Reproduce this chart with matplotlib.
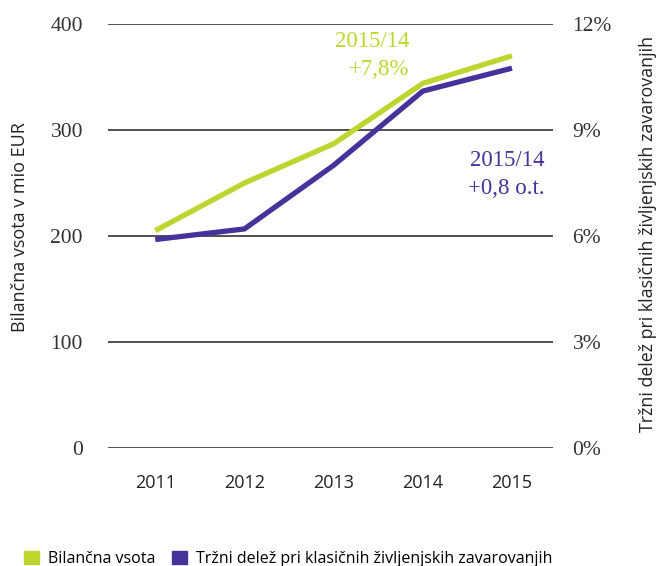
import matplotlib.pyplot as plt
from matplotlib.patches import Patch

leta = [2011, 2012, 2013, 2014, 2015]
bilancna_vsota = [205, 250, 287, 344, 370]      # mio EUR, leva os
trzni_delez = [5.9, 6.2, 8.0, 10.1, 10.75]      # %, desna os

zelena = "#BED52F"
vijolicna = "#46329A"
serif = "Liberation Serif"
sans = "Open Sans"

fig = plt.figure(figsize=(6.58, 5.66), dpi=100)
ax = fig.add_axes([0.1641, 0.2085, 0.6763, 0.7491])
ax2 = ax.twinx()

ax.plot(leta, bilancna_vsota, color=zelena, lw=3.8, solid_capstyle="butt", zorder=3)
ax2.plot(leta, trzni_delez, color=vijolicna, lw=3.8, solid_capstyle="butt", zorder=3)

ax.set_xlim(2010.47, 2015.46)
ax.set_ylim(0, 400)
ax2.set_ylim(0, 12)
ax.set_yticks([0, 100, 200, 300, 400])
ax2.set_yticks([0, 3, 6, 9, 12])
ax2.set_yticklabels([f"{v}%" for v in [0, 3, 6, 9, 12]])
ax.set_xticks(leta)

ax.grid(axis="y", color="#222222", lw=1.1)
ax.set_axisbelow(True)
for a in (ax, ax2):
    for s in a.spines.values():
        s.set_visible(False)
    a.tick_params(length=0)

ax.tick_params(axis="y", pad=18)
ax2.tick_params(axis="y", pad=14)
ax.tick_params(axis="x", pad=19)
for t in ax.get_yticklabels() + ax2.get_yticklabels():
    t.set_fontfamily(serif)
    t.set_fontsize(15.5)
    t.set_color("#333333")
for t in ax.get_xticklabels():
    t.set_fontfamily(sans)
    t.set_fontsize(13)
    t.set_color("#222222")

ax.set_ylabel("Bilančna vsota v mio EUR", fontfamily=sans, fontsize=13, color="#222222",
              va="center")
ax.yaxis.set_label_coords(-0.198, 0.52)
ax2.set_ylabel("Tržni delež pri klasičnih življenjskih zavarovanjih", fontfamily=sans,
               fontsize=12.8, color="#222222", rotation=90, va="center")
ax2.yaxis.set_label_coords(1.2135, 0.505)

ax.text(2013.85, 370, "2015/14\n+7,8%", color=zelena, ha="right", va="center",
        multialignment="right", fontfamily=serif, fontsize=16.5, linespacing=1.45)
ax.text(2015.37, 258, "2015/14\n+0,8 o.t.", color=vijolicna, ha="right", va="center",
        multialignment="right", fontfamily=serif, fontsize=16.5, linespacing=1.45)

handles = [Patch(color=zelena, label="Bilančna vsota"),
           Patch(color=vijolicna, label="Tržni delež pri klasičnih življenjskih zavarovanjih")]
fig.legend(handles=handles, loc="lower left", bbox_to_anchor=(0.014, -0.027), ncol=2,
           frameon=False, handlelength=0.95, handleheight=0.95, handletextpad=0.6,
           columnspacing=1.0, prop={"family": sans, "size": 11.5})

fig.savefig("out.png", dpi=100)
